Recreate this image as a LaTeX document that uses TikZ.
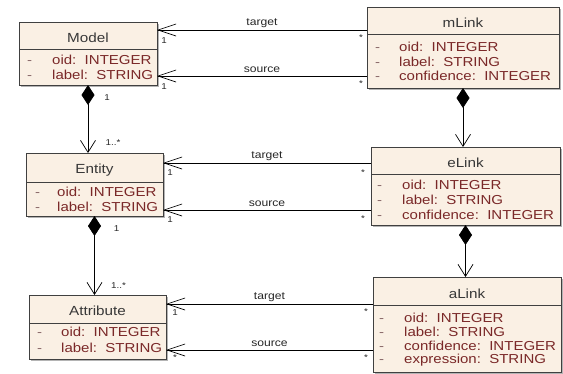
\documentclass[tikz,border=0pt]{standalone}
\usepackage{fontspec}
\setmainfont{Liberation Sans}[FakeStretch=1.155]
\usetikzlibrary{arrows.meta,shadows}
\definecolor{boxfill}{HTML}{FAF0E4}
\definecolor{boxline}{HTML}{404040}
\definecolor{attrcol}{HTML}{7A2828}
\definecolor{dashcol}{HTML}{8A6A6A}
\definecolor{namecol}{HTML}{383838}
\definecolor{shadowcol}{HTML}{B4B4B4}
\begin{document}
\begin{tikzpicture}[x=1pt,y=-1pt,
 classbox/.style={draw=boxline, fill=boxfill, line width=0.8pt, inner sep=0pt, outer sep=0pt, anchor=north west,
   drop shadow={shadow xshift=2pt, shadow yshift=-2pt, fill=shadowcol, opacity=1}},
 sepline/.style={draw=boxline, line width=0.8pt},
 cname/.style={font=\fontsize{13.2}{15}\selectfont, text=namecol, inner sep=0pt, anchor=base},
 attr/.style={font=\fontsize{13}{15}\selectfont, text=attrcol, anchor=base west, inner sep=0pt},
 attrdash/.style={font=\fontsize{13}{15}\selectfont, text=dashcol, anchor=base west, inner sep=0pt},
 assoc/.style={draw=black, line width=0.7pt, -{Straight Barb[length=18pt,width=12pt]}},
 comp/.style={draw=black, line width=0.7pt, {Diamond[length=20pt,width=13pt]}-{Straight Barb[length=12pt,width=15pt]}},
 rolelab/.style={font=\fontsize{10.5}{12}\selectfont, text=black!85, inner sep=0pt},
 mult/.style={font=\fontsize{8.5}{10}\selectfont, text=black!85, inner sep=0pt},
]
\useasboundingbox (0,0) rectangle (563,373);

% ---------- classes ----------
\node[classbox, minimum width=138pt, minimum height=63pt] (model) at (19,22) {};
\draw[sepline] (model.west |- 0,49) -- (model.east |- 0,49);
\node[cname] (modelname) at (88,42) {Model};
\node[attrdash] (md1) at (27,64.5) {-};
\node[attr] (ma1) at (52,64.5) {oid:\ \ INTEGER};
\node[attrdash] (md2) at (27,79.5) {-};
\node[attr] (ma2) at (52,79.5) {label:\ \ STRING};

\node[classbox, minimum width=192pt, minimum height=81pt] (mlink) at (367,7) {};
\draw[sepline] (mlink.west |- 0,34) -- (mlink.east |- 0,34);
\node[cname] (mlinkname) at (463,27.5) {mLink};
\node[attrdash] (ld1) at (375,51.5) {-};
\node[attr] (la1) at (399,51.5) {oid:\ \ INTEGER};
\node[attrdash] (ld2) at (375,66) {-};
\node[attr] (la2) at (399,66) {label:\ \ STRING};
\node[attrdash] (ld3) at (375,80.5) {-};
\node[attr] (la3) at (399,80.5) {confidence:\ \ INTEGER};

\node[classbox, minimum width=137pt, minimum height=63pt] (entity) at (26,153) {};
\draw[sepline] (entity.west |- 0,182) -- (entity.east |- 0,182);
\node[cname] (entityname) at (94.5,173) {Entity};
\node[attrdash] (ed1) at (35,196.5) {-};
\node[attr] (ea1) at (57,196.5) {oid:\ \ INTEGER};
\node[attrdash] (ed2) at (35,211.5) {-};
\node[attr] (ea2) at (57,211.5) {label:\ \ STRING};

\node[classbox, minimum width=189pt, minimum height=78pt] (elink) at (371,147) {};
\draw[sepline] (elink.west |- 0,174) -- (elink.east |- 0,174);
\node[cname] (elinkname) at (465.5,167) {eLink};
\node[attrdash] (fd1) at (377,189.5) {-};
\node[attr] (fa1) at (402,189.5) {oid:\ \ INTEGER};
\node[attrdash] (fd2) at (377,204.5) {-};
\node[attr] (fa2) at (402,204.5) {label:\ \ STRING};
\node[attrdash] (fd3) at (377,219.5) {-};
\node[attr] (fa3) at (402,219.5) {confidence:\ \ INTEGER};

\node[classbox, minimum width=137pt, minimum height=64pt] (attribute) at (29,295) {};
\draw[sepline] (attribute.west |- 0,323) -- (attribute.east |- 0,323);
\node[cname] (attributename) at (97.5,315.5) {Attribute};
\node[attrdash] (ad1) at (37,336.5) {-};
\node[attr] (aa1) at (61,336.5) {oid:\ \ INTEGER};
\node[attrdash] (ad2) at (37,352.5) {-};
\node[attr] (aa2) at (61,352.5) {label:\ \ STRING};

\node[classbox, minimum width=188pt, minimum height=95pt] (alink) at (373,277) {};
\draw[sepline] (alink.west |- 0,305) -- (alink.east |- 0,305);
\node[cname] (alinkname) at (467,298.5) {aLink};
\node[attrdash] (bd1) at (379,322.5) {-};
\node[attr] (ba1) at (404,322.5) {oid:\ \ INTEGER};
\node[attrdash] (bd2) at (379,336) {-};
\node[attr] (ba2) at (404,336) {label:\ \ STRING};
\node[attrdash] (bd3) at (379,350) {-};
\node[attr] (ba3) at (404,350) {confidence:\ \ INTEGER};
\node[attrdash] (bd4) at (379,363.5) {-};
\node[attr] (ba4) at (404,363.5) {expression:\ \ STRING};

% ---------- associations ----------
\draw[assoc] (mlink.west |- 0,30) -- (model.east |- 0,30)
  node[rolelab, midway, yshift=7pt] {target}
  node[mult, pos=0, xshift=-6pt, yshift=-8pt] {*}
  node[mult, pos=1, xshift=7pt, yshift=-11pt] {1};
\draw[assoc] (mlink.west |- 0,76) -- (model.east |- 0,76)
  node[rolelab, midway, yshift=6pt] {source}
  node[mult, pos=0, xshift=-6pt, yshift=-8pt] {*}
  node[mult, pos=1, xshift=7pt, yshift=-11pt] {1};

\draw[assoc] (elink.west |- 0,163) -- (entity.east |- 0,163)
  node[rolelab, midway, yshift=7pt] {target}
  node[mult, pos=0, xshift=-8pt, yshift=-10pt] {*}
  node[mult, pos=1, xshift=7pt, yshift=-10pt] {1};
\draw[assoc] (elink.west |- 0,210) -- (entity.east |- 0,210)
  node[rolelab, midway, yshift=6pt] {source}
  node[mult, pos=0, xshift=-8pt, yshift=-9pt] {*}
  node[mult, pos=1, xshift=7pt, yshift=-10pt] {1};

\draw[assoc] (alink.west |- 0,304) -- (attribute.east |- 0,304)
  node[rolelab, midway, yshift=6.5pt] {target}
  node[mult, pos=0, xshift=-7pt, yshift=-8pt] {*}
  node[mult, pos=1, xshift=9pt, yshift=-9pt] {1};
\draw[assoc] (alink.west |- 0,350) -- (attribute.east |- 0,350)
  node[rolelab, midway, yshift=6.5pt] {source}
  node[mult, pos=0, xshift=-7pt, yshift=-8pt] {*}
  node[mult, pos=1, xshift=9pt, yshift=-8pt] {*};

% ---------- compositions ----------
\draw[comp] (model.south) -- (model.south |- entity.north)
  node[mult, pos=0, xshift=19pt, yshift=-13pt] {1}
  node[mult, pos=1, xshift=25pt, yshift=10pt] {1..*};
\draw[comp] (entity.south) -- (entity.south |- attribute.north)
  node[mult, pos=0, xshift=22pt, yshift=-13pt] {1}
  node[mult, pos=1, xshift=24pt, yshift=9pt] {1..*};
\draw[comp] (mlink.south) -- (mlink.south |- elink.north);
\draw[comp] (elink.south) -- (elink.south |- alink.north);
\end{tikzpicture}
\end{document}
